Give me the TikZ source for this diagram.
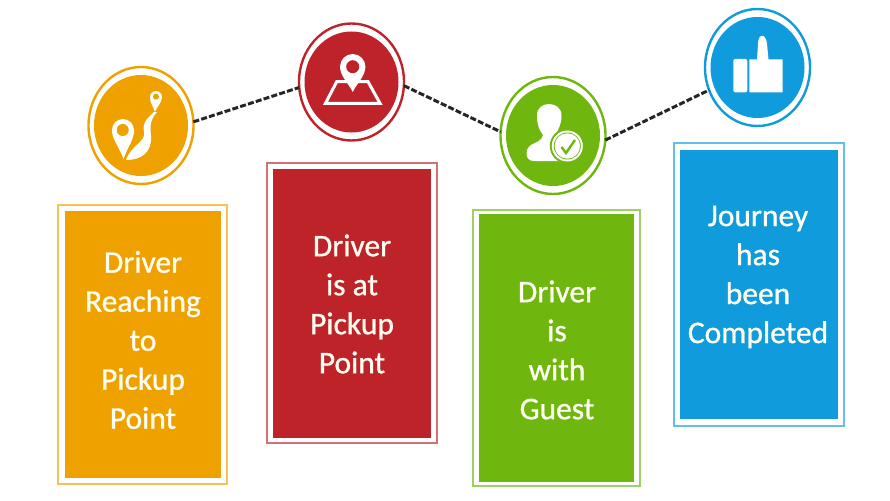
\documentclass[tikz,border=0pt]{standalone}
\usepackage{fontspec}
\setmainfont{Carlito}
\newfontfamily\capfont[FakeBold=0.9]{Carlito}
\usetikzlibrary{shapes.geometric}
\definecolor{cOr}{HTML}{EFA100}\definecolor{cRe}{HTML}{BE2329}\definecolor{cGr}{HTML}{6FB70E}\definecolor{cBl}{HTML}{0F9BDC}
\tikzset{
 ring/.style={ellipse,draw=#1,line width=2.4pt,fill=white,inner sep=0pt,outer sep=0pt,minimum width=105pt,minimum height=117pt},
 disc/.style={ellipse,fill=#1,inner sep=0pt,minimum width=94pt,minimum height=101pt},
 frame/.style={rectangle,draw=#1!65,line width=2.4pt,fill=white,inner sep=0pt,outer sep=0pt},
 panel/.style={rectangle,fill=#1,inner sep=0pt,outer sep=0pt},
 caption/.style={text=white!95!yellow,align=center,inner sep=0pt,font=\capfont\fontsize{31.5}{39}\selectfont},
 link/.style={draw=black!85,line width=3pt,dash pattern=on 6pt off 2.2pt},
 glyph/.style={fill=white,draw=none}
}
\begin{document}
\begin{tikzpicture}[x=1pt,y=-1pt]
\useasboundingbox (0,0) rectangle (890,500);
% orange
\node[ring=cOr] (r1) at (141,125.5) {};
\node[disc=cOr] (d1) at (141,125.5) {};
\node[frame=cOr,minimum width=169pt,minimum height=279pt] (f1) at (142.5,344.5) {};
\node[panel=cOr,minimum width=156pt,minimum height=267pt] (p1) at (142.5,344.5) {};
\node[caption] (t1) at (143,340) {Driver\\Reaching\\to\\Pickup\\Point};
% red
\node[ring=cRe] (r2) at (351.5,82) {};
\node[disc=cRe] (d2) at (351.5,82) {};
\node[frame=cRe,minimum width=170pt,minimum height=280pt] (f2) at (352,303) {};
\node[panel=cRe,minimum width=158pt,minimum height=269pt] (p2) at (352,303) {};
\node[caption] (t2) at (352,304) {Driver\\is at\\Pickup\\Point};
% green
\node[ring=cGr] (r3) at (553,135.5) {};
\node[disc=cGr] (d3) at (553,135.5) {};
\node[frame=cGr,minimum width=167pt,minimum height=276pt] (f3) at (556.5,348) {};
\node[panel=cGr,minimum width=155pt,minimum height=268pt] (p3) at (556.5,348) {};
\node[caption] (t3) at (557,350) {Driver\\is\\with\\Guest};
% blue
\node[ring=cBl] (r4) at (757.5,67.5) {};
\node[disc=cBl] (d4) at (757.5,67.5) {};
\node[frame=cBl,minimum width=170pt,minimum height=283pt] (f4) at (759,284.5) {};
\node[panel=cBl,minimum width=158pt,minimum height=269pt] (p4) at (759,284.5) {};
\node[caption] (t4) at (758,277) {Journey\\has\\been\\Completed};
% connectors
\draw[link] (r1.4) -- (r2.186);
\draw[link] (r2.-4) -- (r3.176);
\draw[link] (r3.-5) -- (r4.205);
% icon 1
\fill[glyph] (123.5,159) .. controls (119,146) and (112,140) .. (112,130) arc[start angle=180,end angle=360,radius=11] .. controls (134,140) and (128,146) .. (123.5,159) -- cycle;
\fill[cOr] (122.7,130) circle (6);
\fill[glyph] (155,112) .. controls (153,106) and (150,103) .. (150,97) arc[start angle=180,end angle=360,radius=6] .. controls (162,103) and (157,106) .. (155,112) -- cycle;
\fill[cOr] (156,96.7) circle (3);
\fill[glyph] (154,112) .. controls (148,118) and (142,122) .. (144,132) .. controls (146,142) and (132,144) .. (126,160) .. controls (142,160) and (152,152) .. (151,136) .. controls (150,126) and (150,120) .. (157,112) -- cycle;
% icon 2
\draw[white,line width=3pt,line join=miter] (347,81.7) -- (336.7,81.7) -- (325.5,103.3) -- (380,103.3) -- (368,81.7) -- (358,81.7);
\fill[glyph] (352.7,92) .. controls (349,84) and (340,76) .. (340,66.7) arc[start angle=180,end angle=360,radius=12.7] .. controls (365.4,76) and (356.4,84) .. (352.7,92) -- cycle;
\fill[cRe] (352.7,66.7) circle (6.5);
% icon 3
\fill[glyph] (537,116) .. controls (536,100) and (562,100) .. (561.5,116) .. controls (561.5,124) and (558,130) .. (556,134) -- (560,150) -- (562,161) -- (534,161) .. controls (525,161) and (524,150) .. (531,145) .. controls (536,142) and (542,141) .. (543,135) .. controls (539,130) and (537,124) .. (537,116) -- cycle;
\fill[cGr] (567.3,146) circle (17.5);
\fill[white] (567.3,146) circle (15.5);
\fill[cGr] (567.3,146) circle (13.5);
\fill[white] (567.3,146) circle (12.7);
\draw[cGr,line width=2.4pt] (561.5,147) -- (566,153) -- (575,140);
% icon 4
\fill[glyph,rounded corners=2pt] (733.3,59) rectangle (747.3,92.3);
\fill[glyph] (749.3,92.3) -- (749.3,59.5) -- (757,59.5) -- (758,44) .. controls (758,33) and (766,33) .. (767,44) -- (768.5,59.5) -- (782.7,59.5) -- (782.7,92.3) -- cycle;
\end{tikzpicture}
\end{document}
